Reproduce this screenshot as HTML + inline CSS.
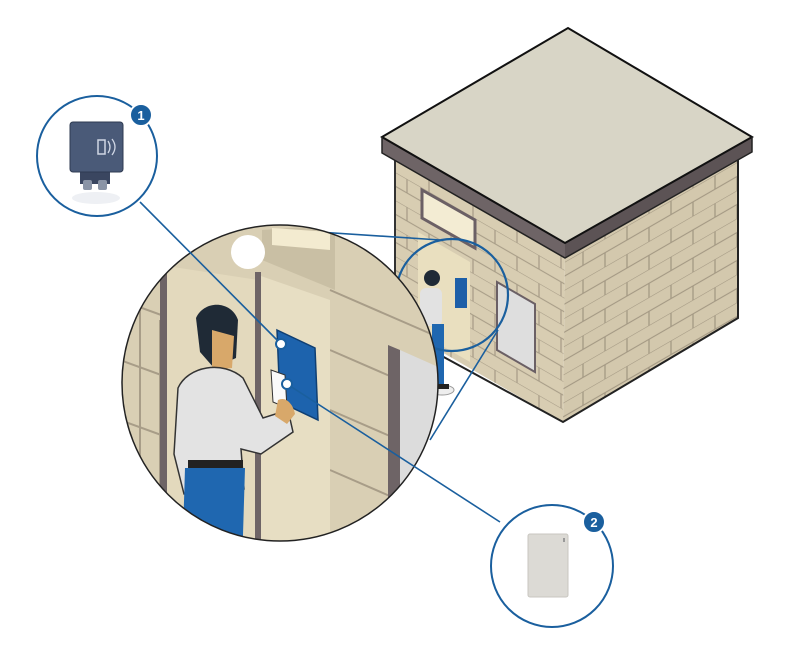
<!DOCTYPE html>
<html><head><meta charset="utf-8"><style>
html,body{margin:0;padding:0;background:#fff;width:788px;height:660px;overflow:hidden}
svg{display:block}
</style></head><body>
<svg width="788" height="660" viewBox="0 0 788 660" xmlns="http://www.w3.org/2000/svg">
<defs>
<pattern id="brL" width="44" height="28" patternUnits="userSpaceOnUse" patternTransform="skewY(30)">
<rect width="44" height="28" fill="#d8cdb2"/>
<path d="M0 0H44M0 14H44M11 0V14M33 14V28" stroke="#a89d88" stroke-width="1.3" fill="none"/>
</pattern>
<pattern id="brR" width="44" height="28" patternUnits="userSpaceOnUse" patternTransform="skewY(-30)">
<rect width="44" height="28" fill="#d3c8ad"/>
<path d="M0 0H44M0 14H44M11 0V14M33 14V28" stroke="#a39883" stroke-width="1.3" fill="none"/>
</pattern>
<clipPath id="big"><circle cx="280" cy="383" r="158"/></clipPath>
</defs>

<polygon points="395,155 565,256 563,422 395,325" fill="url(#brL)"/>
<polygon points="565,256 738,155 738,318 563,422" fill="url(#brR)"/>
<polyline points="395,155 395,325" stroke="#333" stroke-width="2" fill="none"/>
<polyline points="440,355 563,422 738,318 738,155" stroke="#222" stroke-width="2" fill="none"/>
<polygon points="422,190 475,220 475,248 422,218" fill="#f3ecd3" stroke="#6b6065" stroke-width="3"/>
<polygon points="418,232 470,262 470,362 418,332" fill="#e9dfbf"/>
<polygon points="497,282 535,304 535,372 497,350" fill="#dedede" stroke="#6b6065" stroke-width="2"/>
<polygon points="382,137 565,243 565,258 382,153" fill="#6e6466"/>
<polygon points="565,243 752,137 752,152 565,258" fill="#5c5355"/>
<polygon points="382,137 568,28 752,137 565,243" fill="#d8d5c6" stroke="#111" stroke-width="2"/>
<polyline points="382,137 382,153 565,258 752,152 752,137" stroke="#222" stroke-width="1.5" fill="none"/>

<ellipse cx="442" cy="390" rx="12" ry="5" fill="#eee" stroke="#999"/>
<rect x="455" y="278" width="12" height="30" fill="#1d5fa8"/>
<circle cx="432" cy="278" r="8" fill="#1f2a36"/>
<rect x="420" y="288" width="22" height="38" rx="6" fill="#e2e2e2"/>
<rect x="432" y="324" width="12" height="62" fill="#1f67b0"/>
<rect x="435" y="384" width="14" height="5" fill="#222"/>

<g stroke="#1a5f9e" stroke-width="1.6" fill="none">
<line x1="258" y1="228" x2="440" y2="240"/>
<line x1="430" y1="440" x2="498" y2="330"/>
<circle cx="452" cy="295" r="56" stroke-width="2.2"/>
</g>

<g clip-path="url(#big)">
<rect x="120" y="220" width="325" height="330" fill="#d9cfb4"/>
<g stroke="#a89d88" stroke-width="2" fill="none">
<path d="M120 300L175 320M120 360L175 380M120 420L175 440M120 480L175 500"/>
<path d="M330 290L445 340M330 350L445 400M330 410L445 460M330 470L445 520"/>
<path d="M140 300V540M160 320V540"/>
</g>
<polygon points="262,230 335,225 335,290 262,260" fill="#c9bfa4"/>
<polygon points="272,228 330,232 330,250 272,245" fill="#f3ebd0"/>
<polygon points="160,265 258,280 258,560 160,560" fill="#e3d9bd"/>
<polygon points="258,275 330,300 330,560 258,560" fill="#e7dec3"/>
<rect x="160" y="265" width="7" height="300" fill="#6e6466"/>
<rect x="255" y="272" width="6" height="300" fill="#6e6466"/>
<polygon points="388,345 400,350 400,560 388,560" fill="#6e6466"/>
<polygon points="400,350 445,370 445,560 400,560" fill="#dcdcdc"/>
<circle cx="248" cy="252" r="17" fill="#fff"/>
<polygon points="277,330 315,348 318,420 280,402" fill="#1d63ad" stroke="#0f3f73" stroke-width="1.5"/>
<polygon points="271,370 285,375 287,408 273,402" fill="#fafafa" stroke="#333"/>
<path d="M196 318c8-18 35-18 42 2l-2 38-22 10-14-16z" fill="#1f2a36"/>
<path d="M212 330l22 6-2 32-20 2z" fill="#d8a86a"/>
<path d="M178 388c10-22 45-28 65-10l20 40 25-8 5 22-32 22-20-5 3 40-60 5-10-40z" fill="#e3e3e3" stroke="#333" stroke-width="1.5"/>
<path d="M278 400c8-4 15 4 17 14l-8 10-12-8z" fill="#d8a86a"/>
<rect x="188" y="460" width="55" height="10" fill="#222"/>
<path d="M185 468h60l-3 100h-60z" fill="#1f67b0"/>
</g>
<circle cx="280" cy="383" r="158" fill="none" stroke="#222" stroke-width="1.5"/>

<g stroke="#1a5f9e" stroke-width="1.6" fill="none">
<line x1="140" y1="202" x2="281" y2="344"/>
<line x1="287" y1="384" x2="500" y2="522"/>
</g>
<circle cx="281" cy="344" r="5" fill="#fff" stroke="#1a5f9e" stroke-width="2"/>
<circle cx="287" cy="384" r="5" fill="#fff" stroke="#1a5f9e" stroke-width="2"/>

<circle cx="97" cy="156" r="60" fill="#fff" stroke="#1a5f9e" stroke-width="2"/>
<ellipse cx="96" cy="198" rx="24" ry="6" fill="#eef0f4"/>
<rect x="80" y="168" width="30" height="16" fill="#3a4660"/>
<rect x="83" y="180" width="9" height="10" rx="2" fill="#8a94a6"/>
<rect x="98" y="180" width="9" height="10" rx="2" fill="#8a94a6"/>
<rect x="70" y="122" width="53" height="50" rx="3" fill="#4a5a78" stroke="#2f3b52"/>
<path d="M98 140h7v14h-7z" fill="none" stroke="#cfd6e4" stroke-width="1.5"/>
<path d="M108 141q4 6 0 12M112 139q6 8 0 16" stroke="#cfd6e4" stroke-width="1.3" fill="none"/>
<circle cx="141" cy="115" r="11" fill="#1a5f9e" stroke="#fff" stroke-width="2"/>
<text x="141" y="120" font-family="Liberation Sans, sans-serif" font-weight="bold" font-size="13" fill="#fff" text-anchor="middle">1</text>

<circle cx="552" cy="566" r="61" fill="#fff" stroke="#1a5f9e" stroke-width="2"/>
<rect x="528" y="534" width="40" height="63" rx="2" fill="#dcdad5" stroke="#c8c6c0"/>
<rect x="563" y="538" width="2" height="4" fill="#999"/>
<circle cx="594" cy="522" r="11" fill="#1a5f9e" stroke="#fff" stroke-width="2"/>
<text x="594" y="527" font-family="Liberation Sans, sans-serif" font-weight="bold" font-size="13" fill="#fff" text-anchor="middle">2</text>
</svg>
</body></html>
